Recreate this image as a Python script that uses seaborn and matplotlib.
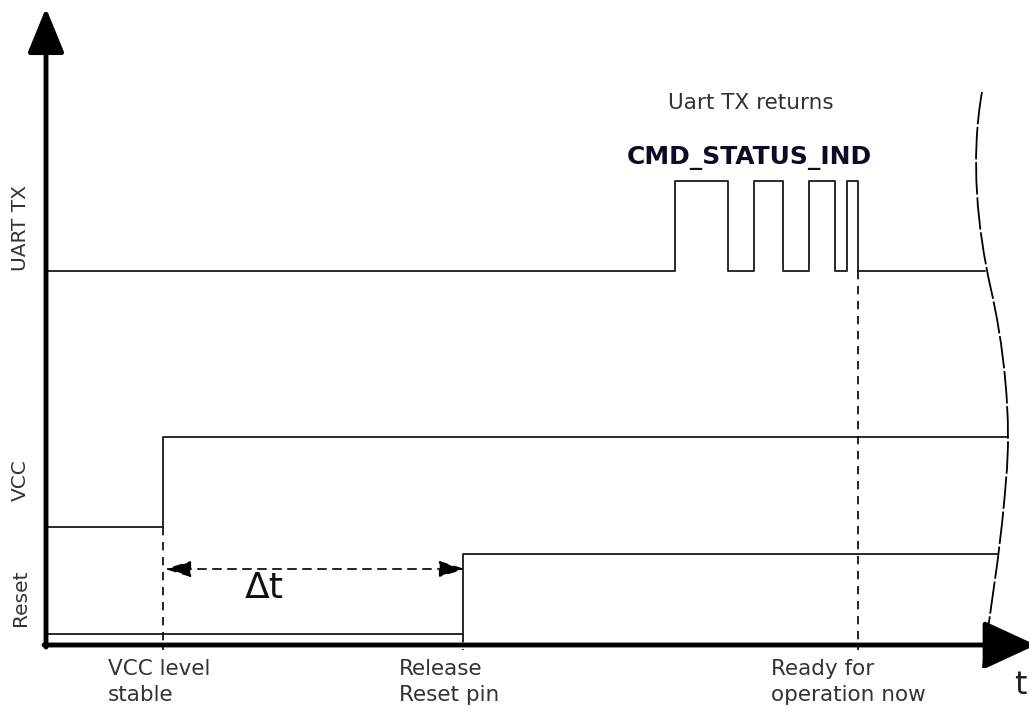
import matplotlib
matplotlib.use("Agg")
import matplotlib.pyplot as plt
from matplotlib.path import Path
from matplotlib.patches import PathPatch
import pandas as pd
import seaborn as sns

# signal breakpoints (time, level) - diagram units, y grows downward
uart_t = [46, 675, 728, 754, 783, 809, 835, 847, 858, 985]
uart_v = [271, 181, 271, 181, 271, 181, 271, 181, 271, 271]
vcc_t = [46, 163, 1008]
vcc_v = [527, 437, 437]
reset_t = [46, 463, 997]
reset_v = [634, 554, 554]

signal_names = ["UART TX", "VCC", "Reset"]
signal_label_y = [228, 480, 598]

# events on the time axis
event_t = [163, 463, 858]
event_from = [527, 634, 271]
event_labels = ["VCC level\nstable", "Release\nReset pin", "Ready for\noperation now"]
event_label_x = [108, 399, 771]

axis_y = 645
axis_x = 46

# break mark (cubic bezier control points)
break_pts = [(982, 92), (970, 160), (978, 230), (990, 285),
             (1004, 345), (1012, 420), (1006, 480),
             (1000, 560), (988, 620), (983, 668)]

sns.set_style("white")
plt.rcParams["font.family"] = ["DejaVu Sans"]

fig = plt.figure(figsize=(10.29, 7.12), dpi=100)
ax = fig.add_axes([0, 0, 1, 1])

line_col = "#2a2a2a"
for t, v in [(uart_t, uart_v), (vcc_t, vcc_v), (reset_t, reset_v)]:
    df = pd.DataFrame({"t": t, "v": v})
    sns.lineplot(data=df, x="t", y="v", drawstyle="steps-post", estimator=None,
                 sort=False, color=line_col, linewidth=1.4, ax=ax)
ax.set_xlim(0, 1029)
ax.set_ylim(712, 0)
ax.set_xlabel("")
ax.set_ylabel("")
ax.axis("off")

# dashed event lines
for t, y0 in zip(event_t, event_from):
    ax.plot([t, t], [y0, axis_y + 5], color="black", lw=1.2, ls=(0, (5, 4)))

# axes with arrow heads
ax.annotate("", xy=(axis_x, 8), xytext=(axis_x, axis_y + 2),
            arrowprops=dict(arrowstyle="-|>,head_length=1.1,head_width=0.45",
                            mutation_scale=25, lw=3.5, color="black",
                            shrinkA=0, shrinkB=0), annotation_clip=False)
ax.annotate("", xy=(1036, axis_y), xytext=(axis_x - 2, axis_y),
            arrowprops=dict(arrowstyle="-|>,head_length=1.3,head_width=0.6",
                            mutation_scale=25, lw=3.5, color="black",
                            shrinkA=0, shrinkB=0), annotation_clip=False)

# delta t arrow
ax.annotate("", xy=(event_t[1] + 2, 569), xytext=(event_t[0] + 2, 569),
            arrowprops=dict(arrowstyle="<|-|>,head_length=0.9,head_width=0.28",
                            mutation_scale=18, lw=1.2, color="black",
                            linestyle=(0, (5, 4)), shrinkA=0, shrinkB=0))
ax.text(245, 588, "Δt", fontsize=26, color="#111", va="center", ha="left")

# break mark, drawn over the time-axis arrow head
codes = [Path.MOVETO] + [Path.CURVE4] * 9
ax.add_patch(PathPatch(Path(break_pts, codes), fill=False, color="black",
                       lw=1.3, ls=(0, (18, 1.5)), zorder=5))

# labels
for name, y in zip(signal_names, signal_label_y):
    ax.text(20, y, name, rotation=90, fontsize=14.5, color="#333",
            ha="center", va="center")
for x, lab in zip(event_label_x, event_labels):
    ax.text(x, 659, lab, fontsize=15.5, color="#333", ha="left", va="top",
            linespacing=1.35)
ax.text(1020, 686, "t", fontsize=23, color="#222", ha="center", va="center")
ax.text(668, 103, "Uart TX returns", fontsize=15.5, color="#333", ha="left",
        va="center")
ax.text(627, 158, "CMD_STATUS_IND", fontsize=18, fontweight="bold",
        color="#0b0b25", ha="left", va="center")

fig.savefig("out.png", dpi=100)
